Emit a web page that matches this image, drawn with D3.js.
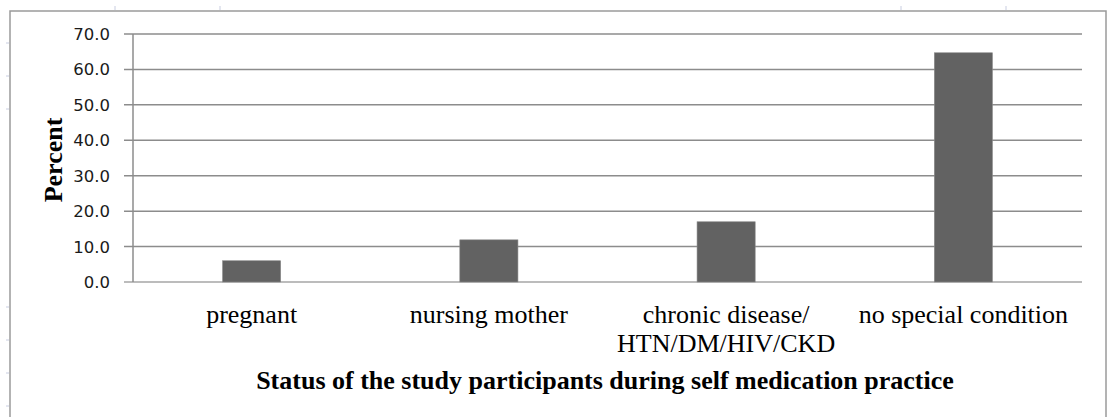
<!DOCTYPE html>
<html>
<head>
<meta charset="utf-8">
<script src="https://cdn.jsdelivr.net/npm/d3@7.9.0/dist/d3.min.js"></script>
<style>
  html, body { margin: 0; padding: 0; background: #fff; }
  svg { display: block; }
</style>
</head>
<body>
<svg id="chart" width="1108" height="417"></svg>
<script>
const categories = ['pregnant', 'nursing mother', 'chronic disease/\nHTN/DM/HIV/CKD', 'no special condition'];
const percents = [6.0, 11.9, 17.0, 64.7];
const yTicks = [0, 10, 20, 30, 40, 50, 60, 70];

const svg = d3.select('#chart');
const width = 1108;
const height = 417;
const margin = { top: 34, right: 26, bottom: 135, left: 133 };

// page ruler marks outside the frame
const rulerTop = [115, 220, 901, 1006];
const rulerLeft = [43, 76, 109, 307, 340, 373, 406];
svg.selectAll('.rt').data(rulerTop).join('line')
  .attr('x1', (d) => d).attr('x2', (d) => d).attr('y1', 6).attr('y2', 10)
  .attr('stroke', '#c8cde0').attr('stroke-width', 1);
svg.selectAll('.rl').data(rulerLeft).join('line')
  .attr('x1', 6).attr('x2', 9).attr('y1', (d) => d).attr('y2', (d) => d)
  .attr('stroke', '#c8cde0').attr('stroke-width', 1);

// chart frame
svg.append('path')
  .attr('d', `M10,${height + 2}V11H1106V${height + 2}`)
  .attr('fill', 'none').attr('stroke', '#9a9a9a').attr('stroke-width', 1.5);

const x = d3.scaleBand()
  .domain(categories)
  .range([margin.left, width - margin.right])
  .paddingInner(0.755)
  .paddingOuter(0.3775);

const y = d3.scaleLinear()
  .domain([0, 70])
  .range([height - margin.bottom, margin.top]);

// gridlines
svg.append('g')
  .selectAll('line')
  .data(yTicks)
  .join('line')
  .attr('x1', margin.left - 9)
  .attr('x2', width - margin.right)
  .attr('y1', (d) => y(d))
  .attr('y2', (d) => y(d))
  .attr('stroke', (d) => (d === 0 ? '#a6a6a6' : '#8c8c8c'))
  .attr('stroke-width', 1.5);

// y axis line
svg.append('line')
  .attr('x1', margin.left).attr('x2', margin.left)
  .attr('y1', y(70)).attr('y2', y(0))
  .attr('stroke', '#8c8c8c').attr('stroke-width', 1.5);

// y tick labels
svg.append('g')
  .selectAll('text')
  .data(yTicks)
  .join('text')
  .attr('x', 110)
  .attr('y', (d) => y(d))
  .attr('dy', '0.36em')
  .attr('text-anchor', 'end')
  .attr('font-family', 'DejaVu Sans, sans-serif')
  .attr('font-size', 16.5)
  .attr('fill', '#1a1a1a')
  .text((d) => d3.format('.1f')(d));

// bars
svg.append('g')
  .selectAll('rect')
  .data(categories)
  .join('rect')
  .attr('x', (d) => x(d))
  .attr('y', (d, i) => y(percents[i]))
  .attr('width', x.bandwidth())
  .attr('height', (d, i) => y(0) - y(percents[i]))
  .attr('fill', '#626262')
  .attr('stroke', '#8a8a8a')
  .attr('stroke-width', 0.6);

// category labels
const catLabels = svg.append('g')
  .selectAll('text')
  .data(categories)
  .join('text')
  .attr('x', (d) => x(d) + x.bandwidth() / 2)
  .attr('y', 323)
  .attr('text-anchor', 'middle')
  .attr('font-family', 'Liberation Serif, Times New Roman, serif')
  .attr('font-size', 26)
  .attr('fill', '#000');

catLabels.selectAll('tspan')
  .data((d) => d.split('\n').map((t) => ({ t, cx: x(d) + x.bandwidth() / 2 })))
  .join('tspan')
  .attr('x', (d) => d.cx)
  .attr('dy', (d, i) => (i === 0 ? 0 : 29))
  .text((d) => d.t);

// axis titles
svg.append('text')
  .attr('x', 605)
  .attr('y', 389)
  .attr('text-anchor', 'middle')
  .attr('font-family', 'Liberation Serif, Times New Roman, serif')
  .attr('font-weight', 'bold')
  .attr('font-size', 26)
  .text('Status of the study participants during self medication practice');

svg.append('text')
  .attr('transform', 'translate(62,160) rotate(-90)')
  .attr('text-anchor', 'middle')
  .attr('font-family', 'Liberation Serif, Times New Roman, serif')
  .attr('font-weight', 'bold')
  .attr('font-size', 26)
  .text('Percent');
</script>
</body>
</html>
